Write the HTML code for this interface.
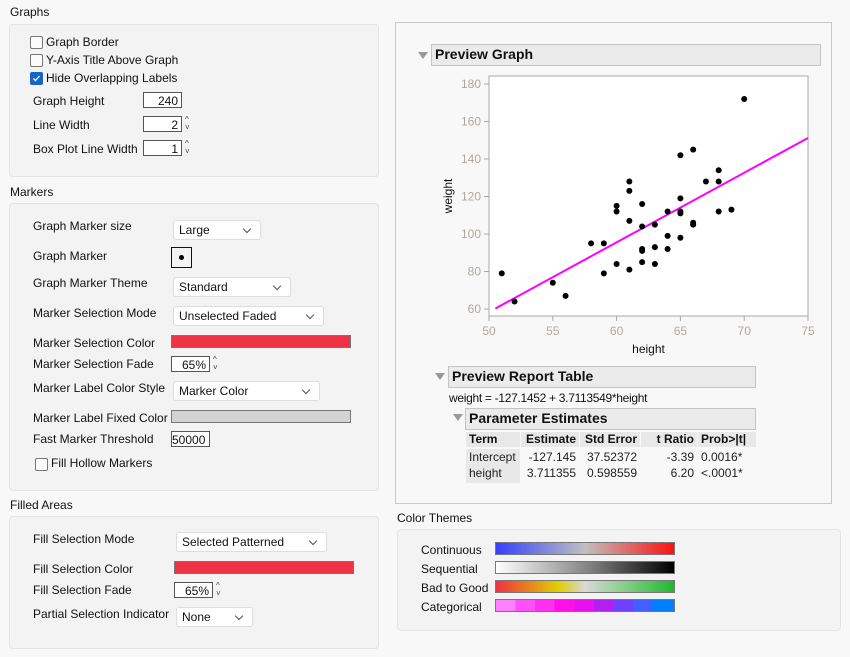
<!DOCTYPE html>
<html><head><meta charset="utf-8">
<style>
body{margin:0;width:850px;height:657px;background:#f8f8f8;font-family:"Liberation Sans",sans-serif;font-size:12px;color:#111;position:relative;overflow:hidden}
.a{position:absolute}
.sec{position:absolute;font-size:12px;color:#111}
.panel{position:absolute;background:#f3f3f3;border:1px solid #e3e3e3;border-radius:4px}
.lbl{position:absolute;font-size:12px;white-space:nowrap}
.cb{position:absolute;width:11px;height:11px;border:1px solid #777;border-radius:2px;background:#fbfbfb}
.cb.on{background:#1a62c7;border-color:#1a62c7}
.num{position:absolute;height:16px;border:1px solid #555;background:#fff;text-align:right;font-size:12px;line-height:16px;padding-right:3px;box-sizing:border-box}
.spin{position:absolute;font-size:8px;line-height:8px;color:#444}
.dd{position:absolute;height:20px;background:#fff;border:1px solid #ddd;border-radius:3px;box-sizing:border-box;font-size:12px;line-height:19px;padding-left:5px}
.dd:after{content:"";position:absolute;right:10px;top:5px;width:5px;height:5px;border-right:1px solid #555;border-bottom:1px solid #555;transform:rotate(45deg)}
.sw{position:absolute;height:13px;border:1px solid #777;box-sizing:border-box}
.hdr{position:absolute;background:#ebebeb;border:1px solid #c4c4c4;box-sizing:border-box;font-weight:bold;font-size:14px;line-height:19px;padding-left:3px}
.tri{position:absolute;width:0;height:0;border-left:5px solid transparent;border-right:5px solid transparent;border-top:7px solid #999}
.th{position:absolute;background:#e8e8e8;font-weight:bold;font-size:12px;line-height:15px;box-sizing:border-box;padding:0 3px}
.td{position:absolute;font-size:12px;line-height:16px;box-sizing:border-box;padding:0 3px;color:#222}
</style></head><body>
<div class="sec" style="left:10px;top:5px">Graphs</div>
<div class="panel" style="left:9px;top:24px;width:368px;height:151px"></div>
<div class="cb" style="left:30px;top:36px"></div><div class="lbl" style="left:46px;top:35px">Graph Border</div>
<div class="cb" style="left:30px;top:54px"></div><div class="lbl" style="left:46px;top:53px">Y-Axis Title Above Graph</div>
<div class="cb on" style="left:30px;top:72px"><svg width="11" height="11" style="position:absolute;left:0;top:0"><path d="M2.5 5.5 L4.5 7.5 L8.5 3" stroke="#fff" stroke-width="1.3" fill="none"/></svg></div><div class="lbl" style="left:46px;top:71px">Hide Overlapping Labels</div>
<div class="lbl" style="left:33px;top:94px">Graph Height</div>
<div class="num" style="left:143px;top:92px;width:39px">240</div>
<div class="lbl" style="left:33px;top:118px">Line Width</div>
<div class="num" style="left:143px;top:116px;width:39px">2</div>
<div class="spin" style="left:185px;top:116px">^<br>˅</div>
<div class="lbl" style="left:33px;top:142px">Box Plot Line Width</div>
<div class="num" style="left:143px;top:140px;width:39px">1</div>
<div class="spin" style="left:185px;top:140px">^<br>˅</div>

<div class="sec" style="left:10px;top:185px">Markers</div>
<div class="panel" style="left:9px;top:203px;width:368px;height:286px"></div>
<div class="lbl" style="left:33px;top:219px">Graph Marker size</div>
<div class="dd" style="left:173px;top:220px;width:88px">Large</div>
<div class="lbl" style="left:33px;top:249px">Graph Marker</div>
<div class="a" style="left:171px;top:247px;width:21px;height:21px;border:1px solid #111;box-sizing:border-box"><div class="a" style="left:7px;top:7px;width:5px;height:5px;border-radius:50%;background:#000"></div></div>
<div class="lbl" style="left:33px;top:276px">Graph Marker Theme</div>
<div class="dd" style="left:173px;top:277px;width:118px">Standard</div>
<div class="lbl" style="left:33px;top:306px">Marker Selection Mode</div>
<div class="dd" style="left:173px;top:306px;width:151px">Unselected Faded</div>
<div class="lbl" style="left:33px;top:336px">Marker Selection Color</div>
<div class="sw" style="left:171px;top:335px;width:180px;background:#ef3347"></div>
<div class="lbl" style="left:33px;top:357px">Marker Selection Fade</div>
<div class="num" style="left:171px;top:356px;width:39px">65%</div>
<div class="spin" style="left:213px;top:356px">^<br>˅</div>
<div class="lbl" style="left:33px;top:381px">Marker Label Color Style</div>
<div class="dd" style="left:173px;top:381px;width:147px">Marker Color</div>
<div class="lbl" style="left:33px;top:411px">Marker Label Fixed Color</div>
<div class="sw" style="left:171px;top:410px;width:180px;background:#d3d3d3"></div>
<div class="lbl" style="left:33px;top:432px">Fast Marker Threshold</div>
<div class="num" style="left:171px;top:431px;width:39px;text-align:left;padding-left:0">50000</div>
<div class="cb" style="left:35px;top:458px"></div><div class="lbl" style="left:51px;top:456px">Fill Hollow Markers</div>

<div class="sec" style="left:10px;top:498px">Filled Areas</div>
<div class="panel" style="left:9px;top:516px;width:368px;height:131px"></div>
<div class="lbl" style="left:33px;top:532px">Fill Selection Mode</div>
<div class="dd" style="left:176px;top:532px;width:151px">Selected Patterned</div>
<div class="lbl" style="left:33px;top:562px">Fill Selection Color</div>
<div class="sw" style="left:174px;top:561px;width:180px;background:#ef3347"></div>
<div class="lbl" style="left:33px;top:583px">Fill Selection Fade</div>
<div class="num" style="left:174px;top:582px;width:39px">65%</div>
<div class="spin" style="left:216px;top:582px">^<br>˅</div>
<div class="lbl" style="left:33px;top:607px">Partial Selection Indicator</div>
<div class="dd" style="left:176px;top:607px;width:77px">None</div>

<div class="a" style="left:395px;top:22px;width:437px;height:482px;border:1px solid #c8c8c8;box-sizing:border-box;background:#f8f8f8"></div>
<div class="tri" style="left:418px;top:52px"></div>
<div class="hdr" style="left:431px;top:44px;width:390px;height:22px">Preview Graph</div>
<svg class="a" style="left:0;top:0" width="850" height="657" id="chart"></svg>

<div class="tri" style="left:435px;top:373px"></div>
<div class="hdr" style="left:448px;top:366px;width:308px;height:22px">Preview Report Table</div>
<div class="lbl" style="left:449px;top:391px;font-size:12px;letter-spacing:-0.3px">weight = -127.1452 + 3.7113549*height</div>
<div class="tri" style="left:453px;top:414px"></div>
<div class="hdr" style="left:465px;top:408px;width:291px;height:22px">Parameter Estimates</div>
<div class="th" style="left:466px;top:432px;width:54px">Term</div>
<div class="th" style="left:521px;top:432px;width:58px;text-align:right">Estimate</div>
<div class="th" style="left:580px;top:432px;width:60px;text-align:right">Std Error</div>
<div class="th" style="left:641px;top:432px;width:56px;text-align:right">t Ratio</div>
<div class="th" style="left:698px;top:432px;width:58px">Prob&gt;|t|</div>
<div class="td" style="left:466px;top:449px;width:54px;height:34px;background:#e8e8e8">Intercept<br>height</div>
<div class="td" style="left:521px;top:449px;width:58px;text-align:right">-127.145<br>3.711355</div>
<div class="td" style="left:580px;top:449px;width:60px;text-align:right">37.52372<br>0.598559</div>
<div class="td" style="left:641px;top:449px;width:56px;text-align:right">-3.39<br>6.20</div>
<div class="td" style="left:698px;top:449px;width:58px">0.0016*<br>&lt;.0001*</div>

<div class="sec" style="left:397px;top:511px">Color Themes</div>
<div class="panel" style="left:397px;top:529px;width:442px;height:100px"></div>
<div class="lbl" style="left:421px;top:543px">Continuous</div>
<div class="sw" style="left:495px;top:542px;width:180px;background:linear-gradient(90deg,#3340ff,#c0c0c0 50%,#ff1010)"></div>
<div class="lbl" style="left:421px;top:562px">Sequential</div>
<div class="sw" style="left:495px;top:561px;width:180px;background:linear-gradient(90deg,#fff,#888 50%,#000)"></div>
<div class="lbl" style="left:421px;top:581px">Bad to Good</div>
<div class="sw" style="left:495px;top:580px;width:180px;background:linear-gradient(90deg,#f03040,#e0d000 35%,#d8d8d8 50%,#90d090 70%,#20b830)"></div>
<div class="lbl" style="left:421px;top:600px">Categorical</div>
<div class="sw" style="left:495px;top:599px;width:180px;background:linear-gradient(90deg,#ff80ff 0 11%,#ff50f8 11% 22%,#ff30f0 22% 33%,#ff10e8 33% 44%,#e810f0 44% 55%,#b020f0 55% 66%,#7040ff 66% 77%,#4060ff 77% 88%,#0080ff 88%)"></div>

<script>
const heights=[51,52,55,56,58,59,59,60,60,60,61,61,61,61,62,62,62,62,62,63,63,63,64,64,64,65,65,65,65,65,66,66,66,67,68,68,68,69,70];
const weights=[79,64,74,67,95,95,79,115,112,84,128,123,107,81,116,104,92,91,85,105,93,84,112,99,92,142,119,112,111,98,145,106,105,128,134,128,112,113,172];
const xTicks=[50,55,60,65,70,75];
const yTicks=[60,80,100,120,140,160,180];
const fit=[-127.1452,3.7113549];
const svg=document.getElementById('chart');const NS='http://www.w3.org/2000/svg';
const L=489,R=808,T=76,B=316;
const X=v=>L+(v-50)/25*(R-L);
const Y=v=>309-(v-60)/120*(309-84);
function mk(t,a,name){const e=document.createElementNS(NS,t);for(const k in a)e.setAttribute(k,a[k]);


svg.appendChild(e);return e;}
mk('rect',{x:L,y:T,width:R-L,height:B-T,fill:'#fff',stroke:'#a8a8a8'},'plot-area');
xTicks.forEach(v=>{mk('line',{x1:X(v),x2:X(v),y1:B,y2:B+5,stroke:'#a8a8a8'},'x-tick');
const t=mk('text',{x:X(v),y:B+19,'text-anchor':'middle',fill:'#b0a8a0','font-size':12,'font-family':'Liberation Sans'},'x-tick-label');t.textContent=v;});
yTicks.forEach(v=>{mk('line',{x1:L-5,x2:L,y1:Y(v),y2:Y(v),stroke:'#a8a8a8'},'y-tick');
const t=mk('text',{x:L-8,y:Y(v)+4,'text-anchor':'end',fill:'#b0a8a0','font-size':12,'font-family':'Liberation Sans'},'y-tick-label');t.textContent=v;});
const xt=mk('text',{x:(L+R)/2,y:353,'text-anchor':'middle','font-size':12,'font-family':'Liberation Sans',fill:'#111'},'x-axis-title');xt.textContent='height';
const yt=mk('text',{x:452,y:(T+B)/2,'text-anchor':'middle','font-size':12,'font-family':'Liberation Sans',fill:'#111',transform:'rotate(-90 452 '+((T+B)/2)+')'},'y-axis-title');yt.textContent='weight';
const x0=50.5,x1=75;
mk('line',{x1:X(x0),y1:Y(fit[0]+fit[1]*x0),x2:X(x1),y2:Y(fit[0]+fit[1]*x1),stroke:'#ff00ff','stroke-width':2},'fit-line');
heights.forEach((h,i)=>mk('circle',{cx:X(h),cy:Y(weights[i]),r:3,fill:'#000'},'data-point'));
</script>
</body></html>
